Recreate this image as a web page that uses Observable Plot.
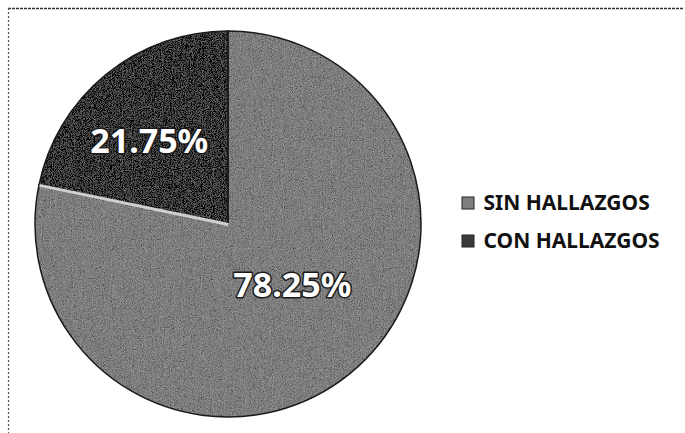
<!DOCTYPE html>
<html>
<head>
<meta charset="utf-8">
<script src="https://cdn.jsdelivr.net/npm/d3@7"></script>
<script src="https://cdn.jsdelivr.net/npm/@observablehq/plot@0.6"></script>
<style>
  html, body { margin: 0; padding: 0; background: #fff; }
  #chart { width: 685px; height: 433px; }
</style>
</head>
<body>
<div id="chart"></div>
<script>
// ---- data ----
const categories = ["SIN HALLAZGOS", "CON HALLAZGOS"];
const values = [78.25, 21.75];
const valueLabels = ["78.25%", "21.75%"];
const sliceColors = ["#7e7e7e", "#3a3a3a"];

const data = categories.map((c, i) => ({category: c, value: values[i], label: valueLabels[i], color: sliceColors[i]}));

// ---- layout ----
const W = 685, H = 433;
const CX = 228, CY = 224, R = 193;
const pie = d3.pie().sort(null).value(d => d.value)(data);
const arcGen = d3.arc().innerRadius(0).outerRadius(R);

// label placement: radius (px) from centre along slice mid-angle, plus nudge
const labelRadius = [90, 116];
const labelNudge = [[7, -8], [-6, 8]];
const labelRows = pie.map((p, i) => {
  const a = (p.startAngle + p.endAngle) / 2;
  return {label: p.data.label,
          x: CX + labelRadius[i] * Math.sin(a) + labelNudge[i][0],
          y: CY - labelRadius[i] * Math.cos(a) + labelNudge[i][1]};
});

// legend
const legendX = 462, legendY0 = 203, legendStep = 38, sw = 12;
const legendRows = data.map((d, i) => ({...d, y: legendY0 + i * legendStep}));

// light highlight on the boundary between slices (start of CON slice)
const bAngle = pie[1].startAngle;
const boundary = [{x1: CX, y1: CY, x2: CX + R * Math.sin(bAngle), y2: CY - R * Math.cos(bAngle)}];

const pieMark = (index, scales, vals, dims, ctx) => {
  const g = d3.create("svg:g");
  const defs = g.append("defs");
  const f = defs.append("filter").attr("id", "grain")
    .attr("x", "-5%").attr("y", "-5%").attr("width", "110%").attr("height", "110%");
  f.append("feTurbulence").attr("type", "fractalNoise").attr("baseFrequency", 1.1)
    .attr("numOctaves", 2).attr("seed", 3).attr("result", "noise");
  f.append("feColorMatrix").attr("in", "noise").attr("type", "matrix")
    .attr("values", "0.33 0.33 0.33 0 0  0.33 0.33 0.33 0 0  0.33 0.33 0.33 0 0  0 0 0 0 1")
    .attr("result", "gray");
  f.append("feComposite").attr("in", "SourceGraphic").attr("in2", "gray")
    .attr("operator", "arithmetic").attr("k1", 0).attr("k2", 1).attr("k3", 0.7).attr("k4", -0.35)
    .attr("result", "mix");
  f.append("feComposite").attr("in", "mix").attr("in2", "SourceGraphic").attr("operator", "in");

  const cx = scales.x(CX), cy = scales.y(CY);
  const gg = g.append("g").attr("transform", `translate(${cx},${cy})`);
  gg.selectAll("path").data(pie).join("path")
    .attr("d", arcGen)
    .attr("fill", d => d.data.color)
    .attr("filter", "url(#grain)");
  gg.selectAll("path.edge").data(pie).join("path").attr("class", "edge")
    .attr("d", arcGen)
    .attr("fill", "none")
    .attr("stroke", "#1a1a1a")
    .attr("stroke-width", 1.5);
  return g.node();
};

const chart = Plot.plot({
  width: W, height: H,
  margin: 0,
  x: {domain: [0, W], range: [0, W], axis: null},
  y: {domain: [0, H], range: [0, H], axis: null},
  style: {background: "#fff"},
  marks: [
    Plot.ruleY([8], {x1: 8, x2: 684, stroke: "#333", strokeWidth: 1.5, strokeDasharray: "3,1"}),
    Plot.ruleX([8], {y1: 8, y2: 433, stroke: "#555", strokeWidth: 1.2, strokeDasharray: "2,2"}),
    pieMark,
    Plot.link(boundary, {x1: "x1", y1: "y1", x2: "x2", y2: "y2", stroke: "#d0d0d0", strokeWidth: 3}),
    Plot.text(labelRows, {
      x: "x", y: "y", text: "label",
      fill: "white", stroke: "#1a1a1a", strokeWidth: 3, paintOrder: "stroke",
      fontSize: 34, fontWeight: "bold", fontFamily: "Noto Sans", textAnchor: "middle"
    }),
    Plot.rect(legendRows, {
      x1: legendX, x2: legendX + sw,
      y1: d => d.y - sw / 2, y2: d => d.y + sw / 2,
      fill: "color", stroke: "#222", strokeWidth: 1
    }),
    Plot.text(legendRows, {
      x: legendX + sw + 9, y: "y", text: "category",
      textAnchor: "start", fill: "#111",
      fontSize: 21, fontWeight: "bold", fontFamily: "Noto Sans"
    })
  ]
});
document.getElementById("chart").appendChild(chart);
</script>
</body>
</html>
